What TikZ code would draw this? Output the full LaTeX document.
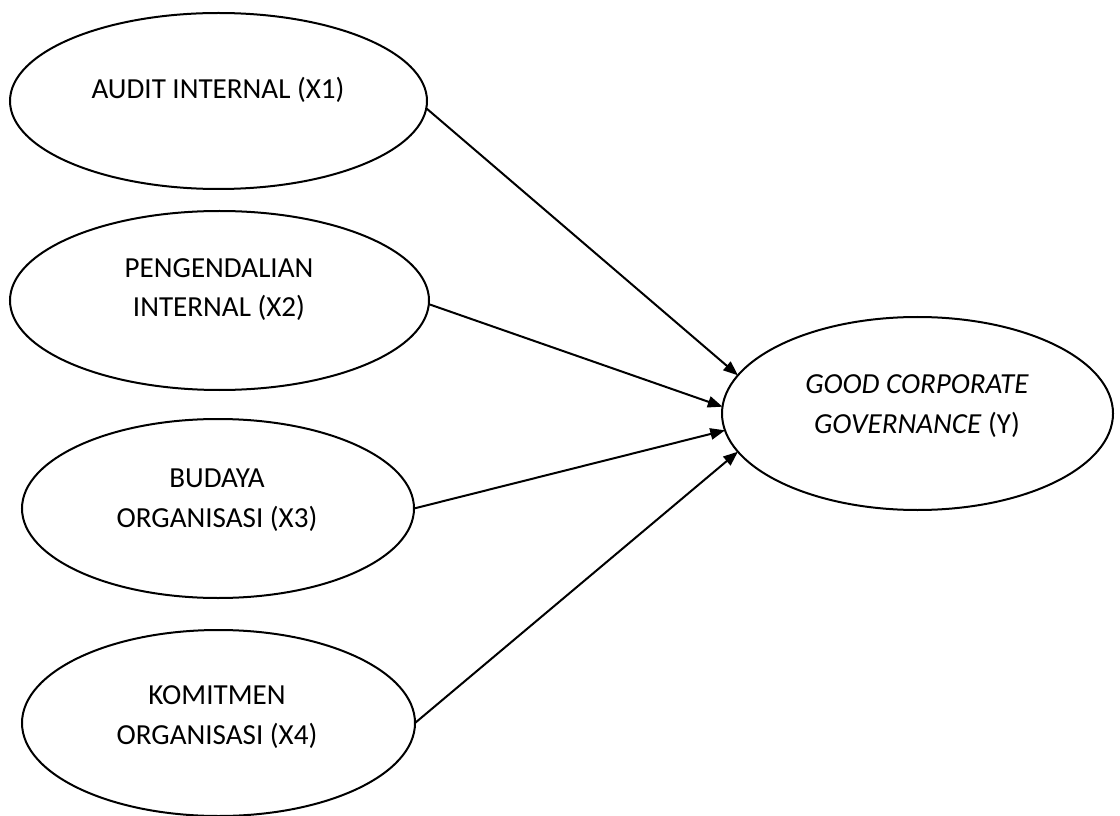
\documentclass[tikz,border=0pt]{standalone}
\usepackage{fontspec}
\setmainfont{Carlito}
\usetikzlibrary{arrows.meta,shapes.geometric}
\tikzset{
  varbox/.style={ellipse,draw=black,line width=1.5pt,fill=white,inner sep=0pt,outer sep=0pt},
  lbl/.style={anchor=base,align=center,inner sep=0pt,font=\fontsize{21.8}{29.5}\selectfont},
  arr/.style={line width=1.5pt,-{Triangle[length=11pt,width=8.5pt]}}
}
\begin{document}
\begin{tikzpicture}[x=0.75pt,y=-0.75pt]
\useasboundingbox (0,0) rectangle (1120,816);
\node[varbox,minimum width=312.75pt,minimum height=132pt] (x1) at (218.5,101) {};
\node[varbox,minimum width=314.25pt,minimum height=134.25pt] (x2) at (219.5,300.5) {};
\node[varbox,minimum width=294pt,minimum height=134.25pt] (x3) at (218,508.5) {};
\node[varbox,minimum width=294.75pt,minimum height=139.5pt] (x4) at (218.5,723) {};
\node[varbox,minimum width=293.25pt,minimum height=144.75pt] (y) at (917.5,413.5) {};
\node[lbl] (t1) at (218,99) {AUDIT INTERNAL (X1)};
\node[lbl] (t2) at (219,317) {PENGENDALIAN\\INTERNAL (X2)};
\node[lbl] (t3) at (217,527) {BUDAYA\\ORGANISASI (X3)};
\node[lbl] (t4) at (217,744) {KOMITMEN\\ORGANISASI (X4)};
\node[lbl] (ty) at (917,433) {\textit{GOOD CORPORATE}\\\textit{GOVERNANCE} (Y)};
\draw[arr] (x1.-2.5) -- (y.168.1);
\draw[arr] (x2.-1.2) -- (y.178.1);
\draw[arr] (x3.0) -- (y.-175.8);
\draw[arr] (x4.0.9) -- (y.-168.6);
\end{tikzpicture}
\end{document}
